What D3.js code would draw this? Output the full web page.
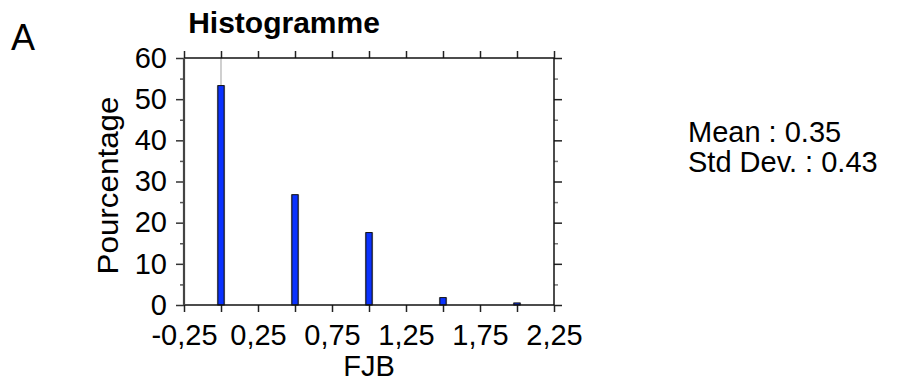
<!DOCTYPE html>
<html>
<head>
<meta charset="utf-8">
<script src="https://cdn.jsdelivr.net/npm/d3@7"></script>
<style>
  body { margin: 0; background: #fff; }
  svg { display: block; font-family: "Liberation Sans", Arial, sans-serif; }
</style>
</head>
<body>
<div id="chart"></div>
<script>
// data
var binValues = [0, 0.5, 1, 1.5, 2];
var percents = [53.3, 26.8, 17.6, 1.8, 0.5];
var xTicks = [-0.25, 0, 0.25, 0.5, 0.75, 1, 1.25, 1.5, 1.75, 2, 2.25];
var xLabels = [-0.25, 0.25, 0.75, 1.25, 1.75, 2.25];
var yMajor = [0, 10, 20, 30, 40, 50, 60];
var yMinor = [5, 15, 25, 35, 45, 55];
var statsLines = ["Mean : 0.35", "Std Dev. : 0.43"];

var W = 898, H = 390;
var box = {left: 184, right: 554, top: 58, bottom: 305};

var svg = d3.select("#chart").append("svg")
  .attr("width", W).attr("height", H);

var x = d3.scaleLinear().domain([-0.25, 2.25]).range([box.left, box.right]);
var y = d3.scaleLinear().domain([0, 60]).range([box.bottom, box.top]);

function fmt(d) { return d3.format(".2f")(d).replace(".", ",").replace("\u2212", "-"); }

// gray reference line at 0
svg.append("line")
  .attr("x1", x(0)).attr("x2", x(0))
  .attr("y1", y(60)).attr("y2", y(0))
  .attr("stroke", "#b0b0b0").attr("stroke-width", 1.2);

// bars
var bw = 0.042;
var bars = svg.append("g");
bars.selectAll("rect.shadow")
  .data(binValues)
  .enter().append("rect")
  .attr("class", "shadow")
  .attr("x", function(d) { return x(d - bw / 2) - 1; })
  .attr("width", function(d) { return x(bw) - x(0) + 2; })
  .attr("y", function(d, i) { return y(percents[i]); })
  .attr("height", function(d, i) { return y(0) - y(percents[i]); })
  .attr("fill", "#9a9a9a");
bars.selectAll("rect.bar")
  .data(binValues)
  .enter().append("rect")
  .attr("class", "bar")
  .attr("x", function(d) { return x(d - bw / 2); })
  .attr("width", function(d) { return x(bw) - x(0); })
  .attr("y", function(d, i) { return y(percents[i]); })
  .attr("height", function(d, i) { return y(0) - y(percents[i]); })
  .attr("fill", "#0a32ff")
  .attr("stroke", "#111")
  .attr("stroke-width", 1);

// axes
function styleAxis(g, col, sw) {
  g.select(".domain").remove();
  g.selectAll(".tick line").attr("stroke", col).attr("stroke-width", sw);
}

var xb = svg.append("g").attr("transform", "translate(0," + box.bottom + ")")
  .call(d3.axisBottom(x).tickValues(xTicks).tickSize(7).tickPadding(12)
    .tickFormat(function(d) { return xLabels.indexOf(d) >= 0 ? fmt(d) : ""; }));
styleAxis(xb, "#222", 1.5);
xb.selectAll("text").attr("font-size", 29).attr("fill", "#000")
  .attr("font-family", "Liberation Sans, Arial, sans-serif").attr("dy", "0.71em");

var xt = svg.append("g").attr("transform", "translate(0," + box.top + ")")
  .call(d3.axisTop(x).tickValues(xTicks).tickSize(7).tickFormat(""));
styleAxis(xt, "#222", 1.5);

var yl = svg.append("g").attr("transform", "translate(" + box.left + ",0)")
  .call(d3.axisLeft(y).tickValues(yMajor).tickSize(8).tickPadding(9)
    .tickFormat(d3.format("d")));
styleAxis(yl, "#333", 1.5);
yl.selectAll("text").attr("font-size", 29).attr("fill", "#000")
  .attr("font-family", "Liberation Sans, Arial, sans-serif");
var ylm = svg.append("g").attr("transform", "translate(" + box.left + ",0)")
  .call(d3.axisLeft(y).tickValues(yMinor).tickSize(4).tickFormat(""));
styleAxis(ylm, "#555", 1.5);

var yr = svg.append("g").attr("transform", "translate(" + box.right + ",0)")
  .call(d3.axisRight(y).tickValues(yMajor).tickSize(8).tickFormat(""));
styleAxis(yr, "#222", 1.5);
var yrm = svg.append("g").attr("transform", "translate(" + box.right + ",0)")
  .call(d3.axisRight(y).tickValues(yMinor).tickSize(4).tickFormat(""));
styleAxis(yrm, "#777", 1.5);

// frame lines
svg.append("line").attr("x1", box.left).attr("x2", box.right)
  .attr("y1", box.top).attr("y2", box.top).attr("stroke", "#111").attr("stroke-width", 1.5);
svg.append("line").attr("x1", box.left).attr("x2", box.right)
  .attr("y1", box.bottom).attr("y2", box.bottom).attr("stroke", "#111").attr("stroke-width", 1.5);
svg.append("line").attr("x1", box.left).attr("x2", box.left)
  .attr("y1", box.top).attr("y2", box.bottom).attr("stroke", "#444").attr("stroke-width", 2.2);
svg.append("line").attr("x1", box.right).attr("x2", box.right)
  .attr("y1", box.top).attr("y2", box.bottom).attr("stroke", "#111").attr("stroke-width", 1.5);

// texts
svg.append("text").attr("x", 11).attr("y", 50)
  .attr("font-size", 36).text("A");

svg.append("text").attr("x", 284).attr("y", 33)
  .attr("text-anchor", "middle").attr("font-size", 30).attr("font-weight", "bold")
  .text("Histogramme");

svg.append("text")
  .attr("transform", "translate(118," + ((box.top + box.bottom) / 2 + 4) + ") rotate(-90)")
  .attr("text-anchor", "middle").attr("font-size", 29)
  .attr("textLength", 178).attr("lengthAdjust", "spacingAndGlyphs")
  .text("Pourcentage");

svg.append("text").attr("x", (box.left + box.right) / 2).attr("y", 376)
  .attr("text-anchor", "middle").attr("font-size", 29)
  .text("FJB");

svg.selectAll("text.stats")
  .data(statsLines)
  .enter().append("text")
  .attr("class", "stats")
  .attr("x", 688)
  .attr("y", function(d, i) { return 142 + i * 30; })
  .attr("font-size", 29)
  .text(function(d) { return d; });
</script>
</body>
</html>
